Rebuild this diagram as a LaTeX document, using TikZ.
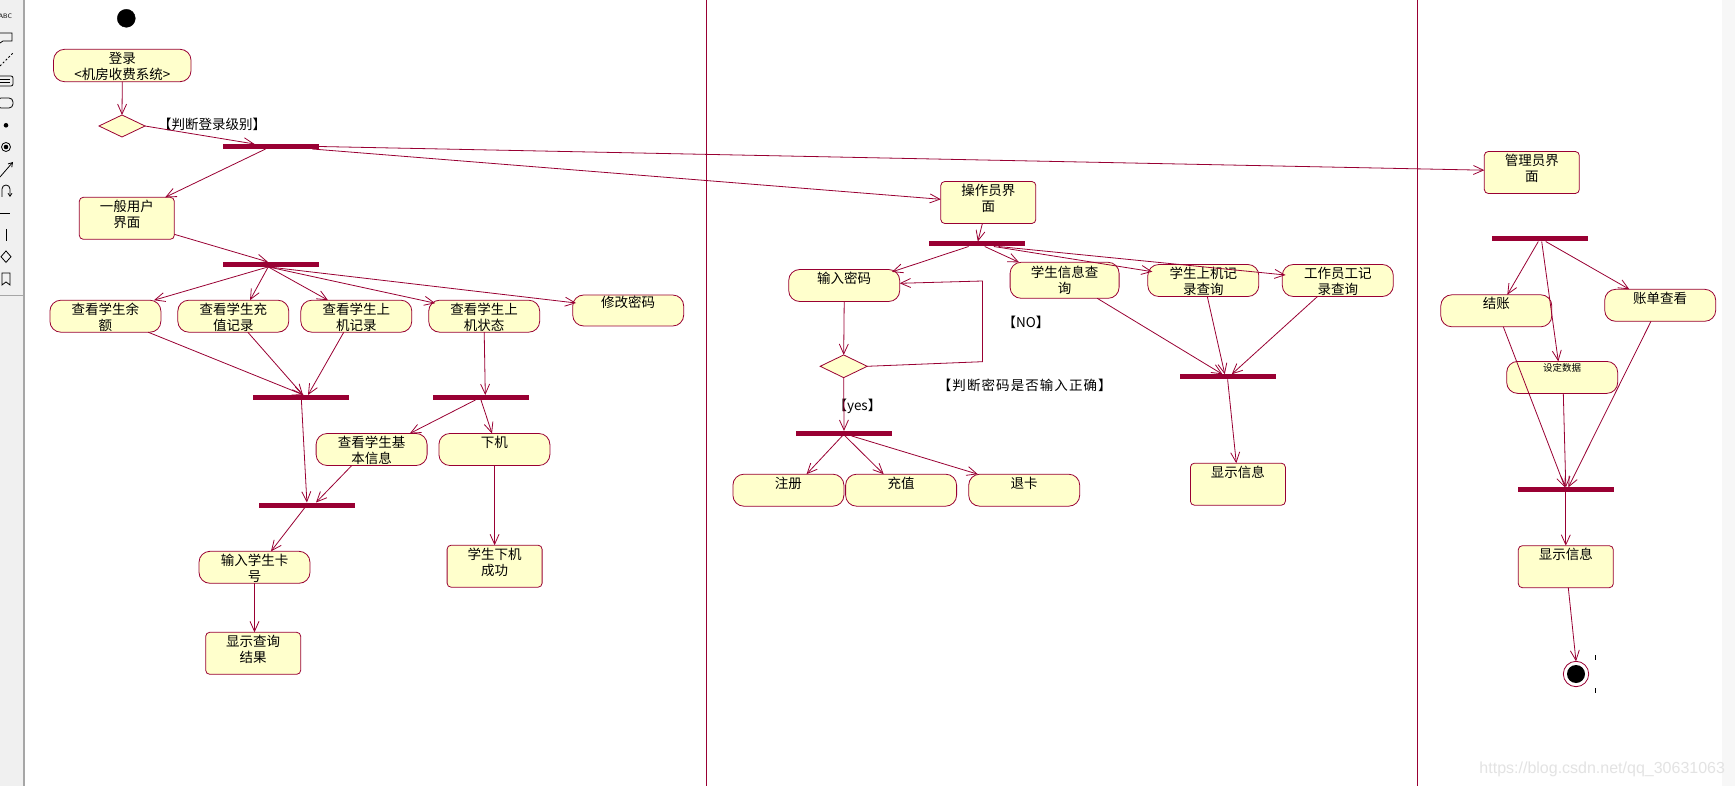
\documentclass[tikz,border=0pt]{standalone}
\usepackage{fontspec}
\setmainfont{Liberation Sans}
\newfontfamily\cjk{Noto Sans CJK SC}
\newfontfamily\cjkwide{Noto Sans CJK SC}[LetterSpace=8]
\usetikzlibrary{arrows.meta,shapes.geometric,calc}
\definecolor{rose}{HTML}{990033}
\definecolor{nodefill}{HTML}{FFFFCC}
\definecolor{tbgray}{HTML}{F0F0F0}
\begin{document}
\begin{tikzpicture}[x=1pt,y=-1pt,
  every node/.style={inner sep=0pt, outer sep=0pt},
  txt/.style={font=\cjk\fontsize{13.5}{16}\selectfont},
  act/.style={txt, draw=rose, fill=nodefill, line width=0.8pt, rounded corners=11pt,
    minimum width=111pt, minimum height=32pt, align=center, text height=14pt, text depth=18pt},
  act2/.style={act, text height=30pt, text depth=2pt},
  st/.style={txt, draw=rose, fill=nodefill, line width=0.8pt, rounded corners=4pt,
    minimum width=95pt, minimum height=42pt, align=center, text height=14pt, text depth=28pt},
  st2/.style={st, text height=30pt, text depth=12pt},
  bar/.style={fill=rose, minimum width=96pt, minimum height=5pt},
  dec/.style={diamond, draw=rose, fill=nodefill, line width=0.8pt, minimum width=46pt, minimum height=22pt},
  flow/.style={draw=rose, line width=0.8pt, -{Straight Barb[length=10pt,width=9pt]}},
  lbl/.style={txt, text=black},
  lane/.style={draw=rose, line width=0.9pt},
  tool/.style={draw=black, line width=0.8pt}
]
\useasboundingbox (0,0) rectangle (1735,786);
\fill[white] (0,0) rectangle (1735,786);
% toolbar
\fill[tbgray] (0,0) rectangle (23.5,786);
\draw[gray!70, line width=1.2pt] (24,0) -- (24,786);
\draw[gray!70, line width=0.8pt] (0,295) -- (23.5,295);
\node[font=\sffamily\fontsize{6.5}{7}\selectfont, anchor=west] (tabc) at (-1.5,16) {ABC};
\draw[tool] (0,33) -- (12,33) -- (12,41) -- (3,41) -- (0,43);
\draw[tool, dash pattern=on 2pt off 2pt] (0,66) -- (13,53);
\draw[tool, rounded corners=2pt] (-3,76) rectangle (13,86);
\draw[tool] (0,79.5) -- (10,79.5) (0,82.5) -- (10,82.5);
\draw[tool, rounded corners=4pt] (-3,98) rectangle (13,108);
\fill[black] (6,125.3) circle[radius=2.3pt];
\draw[tool] (6,147) circle[radius=4.5pt];
\fill[black] (6,147) circle[radius=2.3pt];
\draw[tool, -{Straight Barb[length=4pt,width=5pt]}] (0,177) -- (13,162);
\draw[tool, -{Straight Barb[length=3pt,width=4pt]}] (2,197) -- (2,189) arc[start angle=180, end angle=0, radius=4pt] -- (10,197);
\draw[tool] (0,213.3) -- (10,213.3);
\draw[tool] (6,229) -- (6,241);
\draw[tool] (6,251) -- (11,256.7) -- (6,262.4) -- (1,256.7) -- cycle;
\draw[tool] (2,273) -- (10,273) -- (10,285) -- (6,282) -- (2,285) -- cycle;
% right strip
\fill[gray!6] (1722,0) rectangle (1735,786);
% swimlanes
\draw[lane] (706.9,0) -- (706.9,786);
\draw[lane] (1417.3,0) -- (1417.3,786);

% ===== lane 1 =====
\node[circle, fill=black, draw=black, minimum size=18pt] (init) at (126.3,18.3) {};
\node[act2, minimum width=137.5pt, minimum height=32.4pt, text depth=2.4pt] (login) at (122.3,65.5) {登录\\<机房收费系统>};
\node[dec] (d1) at (122,126) {};
\node[lbl] (l1) at (212,124.7) {【判断登录级别】};
\node[bar] (bar1) at (271.2,146.5) {};
\node[st2] (gen) at (126.8,218.3) {一般用户\\界面};
\node[bar] (bar2) at (271.2,264.4) {};
\node[act2] (n11) at (105.4,316.2) {查看学生余\\额};
\node[act2] (n12) at (233.3,316.2) {查看学生充\\值记录};
\node[act2] (n13) at (356.3,316.2) {查看学生上\\机记录};
\node[act2] (n14) at (484.2,316.2) {查看学生上\\机状态};
\node[act, minimum height=31pt, text height=13pt] (n15) at (628.2,310.5) {修改密码};
\node[bar] (bar3) at (301.4,397.5) {};
\node[bar] (bar4) at (481,397.5) {};
\node[act2] (n21) at (371.6,449.5) {查看学生基\\本信息};
\node[act] (n22) at (494.4,449.5) {下机};
\node[bar] (bar5) at (306.9,505) {};
\node[act2] (n31) at (254.5,567.3) {输入学生卡\\号};
\node[st2] (n41) at (253.2,653.3) {显示查询\\结果};
\node[st2] (n32) at (494.6,566.2) {学生下机\\成功};

% ===== lane 2 =====
\node[st2] (op) at (988.3,202.5) {操作员界\\面};
\node[bar] (bar6) at (977,244) {};
\node[act] (pw) at (844.2,285.5) {输入密码};
\node[act, minimum width=109pt, minimum height=36pt, text height=31pt, text depth=5pt] (q1) at (1064.6,280.3) {学生信息查\\询};
\node[act2] (q2) at (1203.3,280.5) {学生上机记\\录查询};
\node[act2] (q3) at (1337.8,280.5) {工作员工记\\录查询};
\node[dec, minimum width=47pt, minimum height=22.7pt] (d2) at (843.7,366.3) {};
\node[bar] (bar7) at (844,433.4) {};
\node[act] (r1) at (788.4,490.2) {注册};
\node[act] (r2) at (901.1,490.2) {充值};
\node[act] (r3) at (1024.2,490.2) {退卡};
\node[bar] (bar8) at (1227.6,376.8) {};
\node[st] (show1) at (1237.9,484.2) {显示信息};
\node[lbl] (lno) at (1026,322.7) {【NO】};
\node[lbl, font=\cjkwide\fontsize{13.5}{16}\selectfont] (lq) at (1024.8,385.7) {【判断密码是否输入正确】};
\node[lbl] (lyes) at (857.4,406.7) {【yes】};
\coordinate (lp1) at (982.4,361.7);
\coordinate (lp2) at (982.4,281);

% ===== lane 3 =====
\node[st2] (adm) at (1531.8,172.5) {管理员界\\面};
\node[bar] (bar9) at (1540,239) {};
\node[act, text height=13pt] (a1) at (1496.3,310.8) {结账};
\node[act] (a2) at (1660.2,305.3) {账单查看};
\node[act, font=\cjk\fontsize{9.5}{11}\selectfont, text height=10.5pt, text depth=21.5pt] (a3) at (1562.2,377.4) {设定数据};
\node[bar] (bar10) at (1565.8,489.9) {};
\node[st] (show2) at (1565.8,566.7) {显示信息};
\node[circle, draw=rose, fill=white, line width=0.8pt, minimum size=25.4pt] (final) at (1576,674) {};
\fill[black] (final.center) circle[radius=9pt];
\draw[black, line width=1pt] (1595.3,655) -- (1595.3,660) (1595.3,688) -- (1595.3,693);

% watermark
\node[font=\fontsize{16}{18}\selectfont, text=gray!22, anchor=base east] (wm) at (1725,773) {https://blog.csdn.net/qq\_30631063};

% ===== connectors lane 1 =====
\draw[flow] (login.south) -- (d1.north);
\draw[flow] (d1.east) -- ([xshift=-16.7pt]bar1.north);
\draw[flow] ([xshift=-5.6pt]bar1.south) -- ([xshift=38.4pt]gen.north);
\draw[flow] (bar1.east) -- ([yshift=2.3pt]adm.west);
\draw[flow] ([xshift=41pt]bar1.south) -- ([yshift=3.2pt]op.west);
\draw[flow] ([yshift=-16pt]gen.east) -- ([xshift=-3.3pt]bar2.north);
\draw[flow] ([xshift=-3pt]bar2.south) -- ([xshift=48.6pt]n11.north);
\draw[flow] ([xshift=-3pt]bar2.south) -- ([xshift=16.7pt]n12.north);
\draw[flow] ([xshift=-3pt]bar2.south) -- ([xshift=-28.3pt]n13.north);
\draw[flow] ([xshift=-3pt]bar2.south) -- ([xshift=-49pt,yshift=-3pt]n14.north);
\draw[flow] ([xshift=-3pt]bar2.south) -- ([xshift=-52.2pt,yshift=-8pt]n15.north);
\draw[flow] ([xshift=42.8pt]n11.south) -- ([xshift=2.2pt]bar3.north);
\draw[flow] ([xshift=14.5pt]n12.south) -- ([xshift=1.6pt]bar3.north);
\draw[flow] ([xshift=-12.5pt]n13.south) -- ([xshift=6.6pt]bar3.north);
\draw[flow] (n14.south) -- ([xshift=4.3pt]bar4.north);
\draw[flow] (bar3.south) -- (bar5.north);
\draw[flow] ([xshift=-5.6pt]bar4.south) -- ([xshift=38.2pt]n21.north);
\draw[flow] (bar4.south) -- ([xshift=-2.4pt]n22.north);
\draw[flow] ([xshift=-19.8pt]n21.south) -- ([xshift=9.1pt]bar5.north);
\draw[flow] ([xshift=-2pt]bar5.south) -- ([xshift=16.5pt]n31.north);
\draw[flow] (n31.south) -- (n31.south |- n41.north);
\draw[flow] (n22.south) -- (n32.north);

% ===== connectors lane 2 =====
\draw[flow] ([xshift=-5.9pt]op.south) -- ([xshift=0.8pt]bar6.north);
\draw[flow] ([xshift=-8.4pt]bar6.south) -- ([xshift=47.7pt,yshift=-2.4pt]pw.north);
\draw[flow] ([xshift=7.7pt]bar6.south) -- ([xshift=-45.6pt]q1.north);
\draw[flow] ([xshift=16.8pt]bar6.south) -- ([xshift=4.5pt,yshift=8.8pt]q2.west);
\draw[flow] ([xshift=21.4pt]bar6.south) -- ([xshift=3.2pt,yshift=5.5pt]q3.west);
\draw[flow] (pw.south) -- (d2.north);
\draw[flow] (d2.east) -- (lp1) -- (lp2) -- ([yshift=2.2pt]pw.east);
\draw[flow] (d2.south) -- (bar7.north);
\draw[flow] ([xshift=-1.7pt]bar7.south) -- ([xshift=18.1pt]r1.north);
\draw[flow] ([xshift=1pt]bar7.south) -- ([xshift=-17.4pt]r2.north);
\draw[flow] ([xshift=7.5pt]bar7.south) -- ([xshift=-46.4pt]r3.north);
\draw[flow] ([xshift=32.6pt]q1.south) -- ([xshift=-5.1pt]bar8.north);
\draw[flow] ([xshift=4pt]q2.south) -- ([xshift=-2.8pt]bar8.north);
\draw[flow] ([xshift=-20.3pt]q3.south) -- ([xshift=4.1pt]bar8.north);
\draw[flow] (bar8.south) -- ([xshift=-1.6pt]show1.north);

% ===== connectors lane 3 =====
\draw[flow] ([xshift=-1.7pt]bar9.south) -- ([xshift=11pt]a1.north);
\draw[flow] ([xshift=1.7pt]bar9.south) -- ([xshift=-3.9pt]a3.north);
\draw[flow] ([xshift=5.7pt]bar9.south) -- ([xshift=-30.9pt]a2.north);
\draw[flow] ([xshift=7pt]a1.south) -- ([xshift=-0.8pt]bar10.north);
\draw[flow] ([xshift=1.1pt]a3.south) -- (bar10.north);
\draw[flow] ([xshift=-9.2pt]a2.south) -- ([xshift=2.5pt]bar10.north);
\draw[flow] (bar10.south) -- (show2.north);
\draw[flow] ([xshift=2.5pt]show2.south) -- (final.north);
\end{tikzpicture}
\end{document}
